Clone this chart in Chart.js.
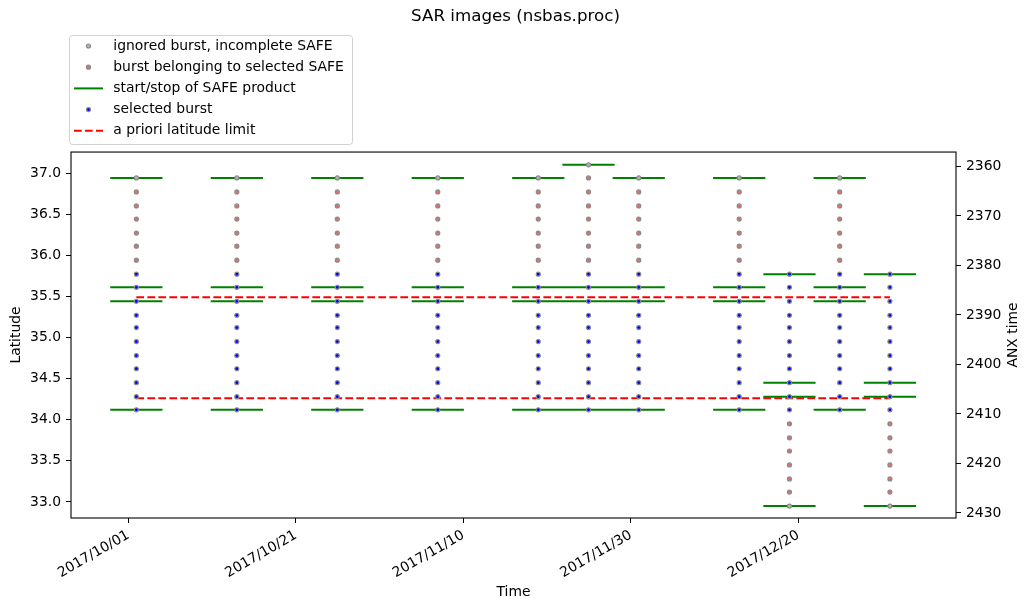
<!DOCTYPE html>
<html>
<head>
<meta charset="utf-8">
<title>SAR images (nsbas.proc)</title>
<script src="https://cdn.jsdelivr.net/npm/chart.js@4.4.1/dist/chart.umd.min.js"></script>
<style>
  html, body { margin: 0; padding: 0; background: #fff; }
</style>
</head>
<body>
<canvas id="sarChart" width="1031" height="611"></canvas>
<script>
// acquisition dates (all taken at the same time of day)
const acqDates = ['2017-10-01', '2017-10-13', '2017-10-25', '2017-11-06', '2017-11-18', '2017-11-24',
                  '2017-11-30', '2017-12-12', '2017-12-18', '2017-12-24', '2017-12-30'];
const acqTime = 'T22:45:00Z';

// burst centre latitudes, north to south
const burstLat = [37.10, 36.94, 36.77, 36.60, 36.44, 36.27, 36.11, 35.94, 35.77, 35.61, 35.44, 35.27, 35.12,
                  34.95, 34.78, 34.62, 34.45, 34.28, 34.12, 33.95, 33.78, 33.62, 33.45, 33.28, 33.12, 32.95];

// one char per burstLat entry : i = ignored, r = belongs to selected SAFE, s = selected, - = none
const burstStatus = [
  '-irrrrrrsssssssssss-------',
  '-irrrrrrsssssssssss-------',
  '-irrrrrrsssssssssss-------',
  '-irrrrrrsssssssssss-------',
  '-irrrrrrsssssssssss-------',
  'irrrrrrrsssssssssss-------',
  '-irrrrrrsssssssssss-------',
  '-irrrrrrsssssssssss-------',
  '--------sssssssssssrrrrrri',
  '-irrrrrrsssssssssss-------',
  '--------sssssssssssrrrrrri'
];

// start / stop latitudes of the SAFE products of each acquisition
const safeEdges = [
  [36.94, 35.61, 35.44, 34.12],
  [36.94, 35.61, 35.44, 34.12],
  [36.94, 35.61, 35.44, 34.12],
  [36.94, 35.61, 35.44, 34.12],
  [36.94, 35.61, 35.44, 34.12],
  [37.10, 35.61, 35.44, 34.12],
  [36.94, 35.61, 35.44, 34.12],
  [36.94, 35.61, 35.44, 34.12],
  [35.77, 34.45, 34.28, 32.95],
  [36.94, 35.61, 35.44, 34.12],
  [35.77, 34.45, 34.28, 32.95]
];
const edgeHalfDays = 3;

const latLimits = [35.49, 34.26];

const xTicks = ['2017-10-01', '2017-10-21', '2017-11-10', '2017-11-30', '2017-12-20'];
const latTicks = [33.0, 33.5, 34.0, 34.5, 35.0, 35.5, 36.0, 36.5, 37.0];
const anxTicks = [2360, 2370, 2380, 2390, 2400, 2410, 2420, 2430];

const timeRange = ['2017-09-24T03:24:00Z', '2018-01-07T20:10:00Z'];
const latRange = [32.805, 37.255];
const anxRange = [2357.09, 2431.01];

const DAY = 86400000;
const font = { family: 'DejaVu Sans', size: 13.9 };

// build datasets
const pts = { i: [], r: [], s: [] };
const edgeSegs = [];
acqDates.forEach((d, k) => {
    const t = Date.parse(d + acqTime);
    [...burstStatus[k]].forEach((c, j) => {
        if (pts[c]) pts[c].push({ x: t, y: burstLat[j] });
    });
    safeEdges[k].forEach(lat => {
        edgeSegs.push({ x: t - edgeHalfDays * DAY, y: lat }, { x: t + edgeHalfDays * DAY, y: lat }, { x: t + edgeHalfDays * DAY, y: null });
    });
});
const t0 = Date.parse(acqDates[0] + acqTime);
const t1 = Date.parse(acqDates[acqDates.length - 1] + acqTime);
const limitSegs = [];
latLimits.forEach(lat => {
    limitSegs.push({ x: t0, y: lat }, { x: t1, y: lat }, { x: t1, y: null });
});

function markerSet(label, data, face) {
    return {
        label: label,
        data: data,
        showLine: false,
        pointStyle: 'circle',
        pointRadius: 2,
        pointBorderWidth: 1.2,
        pointBackgroundColor: face,
        pointBorderColor: '#8a8a8a',
        order: 0
    };
}

const pad2 = n => String(n).padStart(2, '0');
function fmtDate(v) {
    const d = new Date(v);
    return d.getUTCFullYear() + '/' + pad2(d.getUTCMonth() + 1) + '/' + pad2(d.getUTCDate());
}

const gridOpts = { drawOnChartArea: false, tickLength: 5, tickColor: '#000', tickWidth: 1 };

// frame, right axis title and the boxed legend
const extras = {
    id: 'extras',
    afterDraw(chart) {
        const { ctx, chartArea: a } = chart;
        ctx.save();
        ctx.strokeStyle = '#000';
        ctx.lineWidth = 1.1;
        ctx.strokeRect(a.left, a.top, a.right - a.left, a.bottom - a.top);

        ctx.fillStyle = '#000';
        ctx.font = '13.9px "DejaVu Sans"';
        ctx.textAlign = 'center';
        ctx.textBaseline = 'middle';
        ctx.save();
        ctx.translate(1013, (a.top + a.bottom) / 2);
        ctx.rotate(-Math.PI / 2);
        ctx.fillText('ANX time', 0, 0);
        ctx.restore();

        // legend
        ctx.beginPath();
        ctx.roundRect(69.5, 35.5, 283, 109, 3);
        ctx.fillStyle = 'rgba(255,255,255,0.8)';
        ctx.fill();
        ctx.strokeStyle = 'rgba(204,204,204,0.9)';
        ctx.lineWidth = 1;
        ctx.stroke();
        chart.data.datasets.forEach((ds, i) => {
            const y = 46 + i * 21.2;
            if (ds.showLine === false) {
                ctx.beginPath();
                ctx.arc(88.5, y, ds.pointRadius, 0, Math.PI * 2);
                ctx.fillStyle = ds.pointBackgroundColor;
                ctx.fill();
                ctx.lineWidth = ds.pointBorderWidth;
                ctx.strokeStyle = ds.pointBorderColor;
                ctx.stroke();
            } else {
                ctx.beginPath();
                ctx.setLineDash(ds.borderDash || []);
                ctx.moveTo(74, y);
                ctx.lineTo(103, y);
                ctx.lineWidth = ds.borderWidth;
                ctx.strokeStyle = ds.borderColor;
                ctx.stroke();
                ctx.setLineDash([]);
            }
            ctx.fillStyle = '#000';
            ctx.textAlign = 'left';
            ctx.fillText(ds.label, 113.3, y);
        });
        ctx.restore();
    }
};

const sarChart = new Chart(document.getElementById('sarChart').getContext('2d'), {
    type: 'line',
    data: {
        datasets: [
            markerSet('ignored burst, incomplete SAFE', pts.i, '#b4b4b4'),
            markerSet('burst belonging to selected SAFE', pts.r, '#e07070'),
            {
                label: 'start/stop of SAFE product',
                data: edgeSegs,
                borderColor: 'green',
                borderWidth: 2,
                borderCapStyle: 'square',
                pointRadius: 0,
                spanGaps: false,
                order: 1
            },
            markerSet('selected burst', pts.s, '#0000ff'),
            {
                label: 'a priori latitude limit',
                data: limitSegs,
                borderColor: 'red',
                borderWidth: 2,
                borderDash: [7.7, 3.3],
                pointRadius: 0,
                spanGaps: false,
                order: 2
            }
        ]
    },
    options: {
        responsive: false,
        animation: false,
        events: [],
        layout: { padding: 0 },
        plugins: {
            legend: { display: false },
            tooltip: { enabled: false },
            title: {
                display: true,
                text: 'SAR images (nsbas.proc)',
                color: '#000',
                font: { family: 'DejaVu Sans', size: 16.7, weight: 'normal' },
                padding: { top: 6.5, bottom: 125.5 }
            }
        },
        scales: {
            x: {
                type: 'linear',
                min: Date.parse(timeRange[0]),
                max: Date.parse(timeRange[1]),
                afterBuildTicks: s => { s.ticks = xTicks.map(d => ({ value: Date.parse(d) })); },
                afterFit: s => { s.height = 93; },
                ticks: { autoSkip: false, minRotation: 30, maxRotation: 30, padding: 4, color: '#000', font: font, callback: v => fmtDate(v) },
                grid: gridOpts,
                border: { display: false },
                title: { display: true, text: 'Time', color: '#000', font: font, padding: { top: 0, bottom: 10 } }
            },
            y: {
                position: 'left',
                min: latRange[0],
                max: latRange[1],
                afterBuildTicks: s => { s.ticks = latTicks.map(v => ({ value: v })); },
                afterFit: s => { s.width = 71; },
                ticks: { padding: 5, color: '#000', font: font, callback: v => v.toFixed(1) },
                grid: gridOpts,
                border: { display: false },
                title: { display: true, text: 'Latitude', color: '#000', font: font, padding: { top: 8, bottom: 0 } }
            },
            y2: {
                display: true,
                position: 'right',
                reverse: true,
                min: anxRange[0],
                max: anxRange[1],
                afterBuildTicks: s => { s.ticks = anxTicks.map(v => ({ value: v })); },
                afterFit: s => { s.width = 75; },
                ticks: { padding: 5, color: '#000', font: font, callback: v => String(v) },
                grid: gridOpts,
                border: { display: false }
            }
        }
    },
    plugins: [extras]
});
</script>
</body>
</html>
